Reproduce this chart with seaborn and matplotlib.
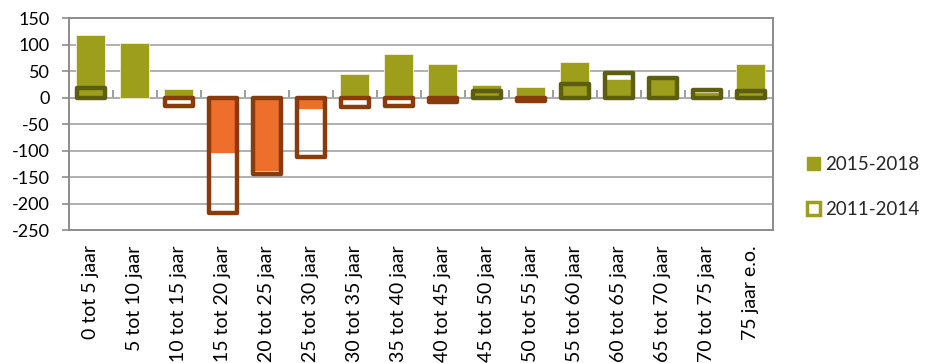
import numpy as np
import pandas as pd
import matplotlib
matplotlib.use("Agg")
import matplotlib.pyplot as plt
import seaborn as sns
from matplotlib.patches import Patch

categories = ["0 tot 5 jaar", "5 tot 10 jaar", "10 tot 15 jaar", "15 tot 20 jaar",
              "20 tot 25 jaar", "25 tot 30 jaar", "30 tot 35 jaar", "35 tot 40 jaar",
              "40 tot 45 jaar", "45 tot 50 jaar", "50 tot 55 jaar", "55 tot 60 jaar",
              "60 tot 65 jaar", "65 tot 70 jaar", "70 tot 75 jaar", "75 jaar e.o."]
values_2015_2018 = [119, 103, 17, -105, -139, -22, 45, 82, 64, 24, 20, 67, 36, 37, 10, 63]
values_2011_2014 = [18, np.nan, -16, -218, -145, -112, -17, -15, -8, 13, -6, 26, 46, 37, 15, 12]
yticks = [150, 100, 50, 0, -50, -100, -150, -200, -250]

OLIVE = "#9e9e1d"
ORANGE = "#ee6e2c"
DARK_OLIVE = "#5c5e10"
BROWN = "#8a3b0c"
GRID = "#b0b0b0"
FRAME = "#8c8c8c"

sns.set_theme(style="white")
plt.rcParams["font.family"] = ["Lato", "DejaVu Sans"]
plt.rcParams["axes.unicode_minus"] = False

df = pd.DataFrame({"leeftijd": categories,
                   "2015-2018": values_2015_2018,
                   "2011-2014": values_2011_2014})

fig = plt.figure(figsize=(9.3, 3.63), dpi=100)
ax = fig.add_axes([0.074, 0.366, 0.757, 0.584])

# filled bars for 2015-2018
sns.barplot(data=df, x="leeftijd", y="2015-2018", color=OLIVE, width=0.66,
            order=categories, ax=ax, zorder=3, saturation=1)
n_filled = len(ax.patches)
for p in ax.patches:
    p.set_facecolor(OLIVE if p.get_height() >= 0 else ORANGE)
    p.set_edgecolor("#f3f3d6")
    p.set_linewidth(0.6)

# hollow bars for 2011-2014 drawn on top
sns.barplot(data=df, x="leeftijd", y="2011-2014", color=DARK_OLIVE, width=0.64,
            order=categories, ax=ax, zorder=4, saturation=1)
for p in ax.patches[n_filled:]:
    h = p.get_height()
    if np.isnan(h):
        continue
    p.set_facecolor("none")
    p.set_edgecolor(DARK_OLIVE if h >= 0 else BROWN)
    p.set_linewidth(3.2)
    p.set_joinstyle("round")

ax.set_ylim(-250, 150)
ax.set_xlim(-0.5, len(categories) - 0.5)
ax.set_yticks(yticks)
ax.set_yticklabels([str(v) for v in yticks])
ax.yaxis.grid(True, color=GRID, linewidth=1.4, zorder=0)
ax.set_axisbelow(True)
ax.set_xlabel("")
ax.set_ylabel("")

for s in ax.spines.values():
    s.set_visible(True)
    s.set_color(FRAME)
    s.set_linewidth(1.4)

ax.tick_params(axis="y", length=5, width=1.2, color=FRAME, direction="out",
               pad=9, labelsize=13, labelcolor="black", left=True)
ax.tick_params(axis="x", length=0, pad=11, labelsize=14, labelcolor="black")
for lbl in ax.get_xticklabels():
    lbl.set_rotation(90)
    lbl.set_ha("center")
    lbl.set_va("top")

# category axis line through zero with tick marks between the categories
zero_axis = ax.secondary_xaxis(250 / 400)
zero_axis.spines["bottom"].set_color(FRAME)
zero_axis.spines["bottom"].set_linewidth(1.4)
zero_axis.set_xticks(np.arange(0.5, len(categories) - 1, 1.0))
zero_axis.set_xticklabels([])
zero_axis.tick_params(axis="x", length=6, width=1.2, color=FRAME, direction="out")

handles = [Patch(facecolor=OLIVE, edgecolor=OLIVE),
           Patch(facecolor="white", edgecolor=OLIVE, linewidth=2.5)]
fig.legend(handles, ["2015-2018", "2011-2014"], loc="center left",
           bbox_to_anchor=(0.868, 0.485), frameon=False, fontsize=13.5,
           handlelength=0.7, handleheight=0.7, handletextpad=0.25,
           labelspacing=1.5, borderpad=0, borderaxespad=0)

fig.savefig("out.png", dpi=100)
